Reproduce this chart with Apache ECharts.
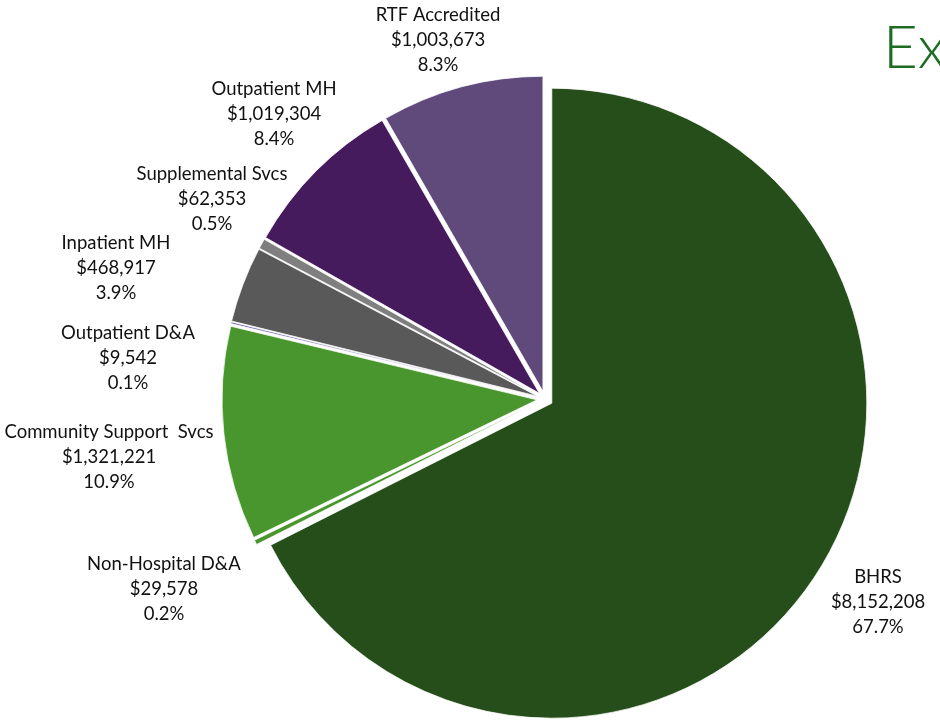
<!DOCTYPE html>
<html>
<head>
<meta charset="utf-8">
<script src="https://cdn.jsdelivr.net/npm/echarts@6/dist/echarts.min.js"></script>
<style>
  html, body { margin: 0; padding: 0; background: #ffffff; }
  #chart { width: 940px; height: 721px; }
</style>
</head>
<body>
<div id="chart"></div>
<script>
// Program spending by service line (clockwise from 12 o'clock)
const categories = [
  'BHRS',
  'Non-Hospital D&A',
  'Community Support  Svcs',
  'Outpatient D&A',
  'Inpatient MH',
  'Supplemental Svcs',
  'Outpatient MH',
  'RTF Accredited'
];
const amounts = [8152208, 29578, 1321221, 9542, 468917, 62353, 1019304, 1003673];
const shareLabels = ['67.7%', '0.2%', '10.9%', '0.1%', '3.9%', '0.5%', '8.4%', '8.3%'];

const sliceColors = ['#264E1A', '#4A962E', '#4A962E', '#5E4E9E', '#595959', '#7F7F7F', '#451B5E', '#604A7B'];

// Centre points of each callout block
const labelCenters = [
  [878, 602],
  [164, 589],
  [109, 457],
  [128, 358],
  [116, 268],
  [212, 199],
  [274, 114],
  [438, 40]
];

const labelFont = '18.5px Lato, "Open Sans", sans-serif';

function money(v) {
  return '$' + v.toLocaleString('en-US');
}

// Callouts: name, amount and share, one block per slice
const callouts = categories.map(function (name, i) {
  return {
    type: 'text',
    x: labelCenters[i][0],
    y: labelCenters[i][1],
    silent: true,
    style: {
      text: name + '\n' + money(amounts[i]) + '\n' + shareLabels[i],
      fill: '#111111',
      font: labelFont,
      lineHeight: 25,
      align: 'center',
      verticalAlign: 'middle'
    }
  };
});

const chart = echarts.init(document.getElementById('chart'), null, { renderer: 'canvas' });

chart.setOption({
  animation: false,
  backgroundColor: '#ffffff',
  graphic: [{
    type: 'text',
    left: 883,
    top: 19,
    silent: true,
    style: {
      text: 'Ex',
      fill: '#1E6B22',
      font: '300 60px Lato, "Open Sans", sans-serif'
    }
  }].concat(callouts),
  series: [{
    type: 'pie',
    center: [545, 399],
    radius: 315,
    startAngle: 90,
    clockwise: true,
    selectedMode: 'multiple',
    selectedOffset: 8,
    silent: true,
    emphasis: { disabled: true },
    itemStyle: { borderColor: '#ffffff', borderWidth: 0.75 },
    label: { show: false },
    labelLine: { show: false },
    data: categories.map(function (name, i) {
      return {
        name: name,
        value: amounts[i],
        selected: true,
        itemStyle: { color: sliceColors[i] }
      };
    })
  }]
});
</script>
</body>
</html>
